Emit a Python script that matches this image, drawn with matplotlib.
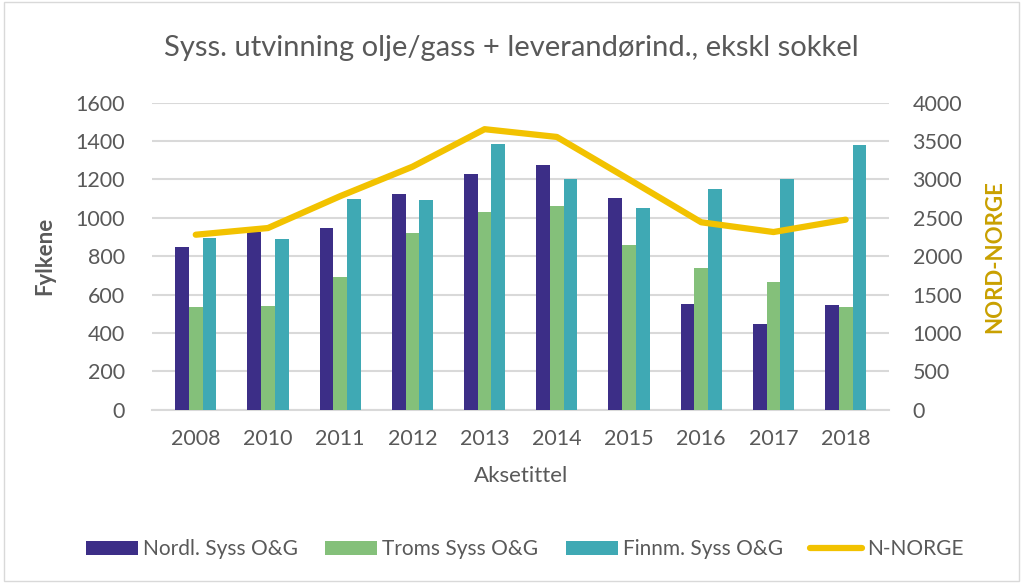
import matplotlib.pyplot as plt
import numpy as np

plt.rcParams['font.family'] = ['Lato', 'DejaVu Sans']

years = ["2008", "2010", "2011", "2012", "2013", "2014", "2015", "2016", "2017", "2018"]
nordl = [849, 926, 947, 1125, 1226, 1275, 1104, 549, 445, 544]
troms = [534, 539, 692, 921, 1032, 1062, 858, 739, 664, 537]
finnm = [895, 891, 1099, 1095, 1386, 1202, 1050, 1151, 1202, 1380]
nnorge = [2280, 2367, 2782, 3165, 3654, 3553, 3000, 2442, 2315, 2476]

tc = '#595959'
fig = plt.figure(figsize=(10.23, 5.83), dpi=100)
ax = fig.add_axes([0.149, 0.297, 0.72, 0.527])
ax2 = ax.twinx()

x = np.arange(len(years))
w = 0.19
b1 = ax.bar(x - w, nordl, w, color='#3C2E87', label='Nordl. Syss O&G', zorder=3)
b2 = ax.bar(x, troms, w, color='#84C07A', label='Troms Syss O&G', zorder=3)
b3 = ax.bar(x + w, finnm, w, color='#3FA9B4', label='Finnm. Syss O&G', zorder=3)
l1, = ax2.plot(x, nnorge, color='#F2C200', lw=4.5, label='N-NORGE', solid_capstyle='round')

ax.set_ylim(0, 1600)
ax.set_yticks(range(0, 1601, 200))
ax2.set_ylim(0, 4000)
ax2.set_yticks(range(0, 4001, 500))
ax.set_xlim(-0.6, len(years) - 0.4)
ax.set_xticks(x)
ax.set_xticklabels(years)
ax.grid(axis='y', color='#D9D9D9', lw=1.5, zorder=0)
for a in (ax, ax2):
    for s in a.spines.values():
        s.set_visible(False)
    a.tick_params(length=0, labelsize=15.5, colors=tc)
ax.tick_params(axis='y', pad=20)
ax.tick_params(axis='x', pad=14)
ax2.tick_params(axis='y', pad=17)
ax.spines['bottom'].set_visible(True)
ax.spines['bottom'].set_color('#D9D9D9')
ax.spines['bottom'].set_linewidth(1.5)

ax.set_ylabel("Fylkene", fontsize=16, fontweight='bold', color=tc, labelpad=14)
ax2.set_ylabel("NORD-NORGE", fontsize=16, fontweight='bold', color='#C9A000', labelpad=16)
ax.set_xlabel("Aksetittel", fontsize=16, color=tc, labelpad=12)
fig.suptitle("Syss. utvinning olje/gass + leverandørind., ekskl sokkel", fontsize=21, color=tc, y=0.94)

fig.legend(handles=[b1, b2, b3, l1], loc='center', bbox_to_anchor=(0.513, 0.058), ncol=4,
           frameon=False, fontsize=15, labelcolor=tc, handlelength=2.5, handleheight=0.67,
           columnspacing=1.3, handletextpad=0.25)

fig.patches.append(plt.Rectangle((0.004, 0.004), 0.992, 0.992, transform=fig.transFigure,
                                 fill=False, edgecolor='#D9D9D9', lw=1))
fig.savefig("out.png", dpi=100)
